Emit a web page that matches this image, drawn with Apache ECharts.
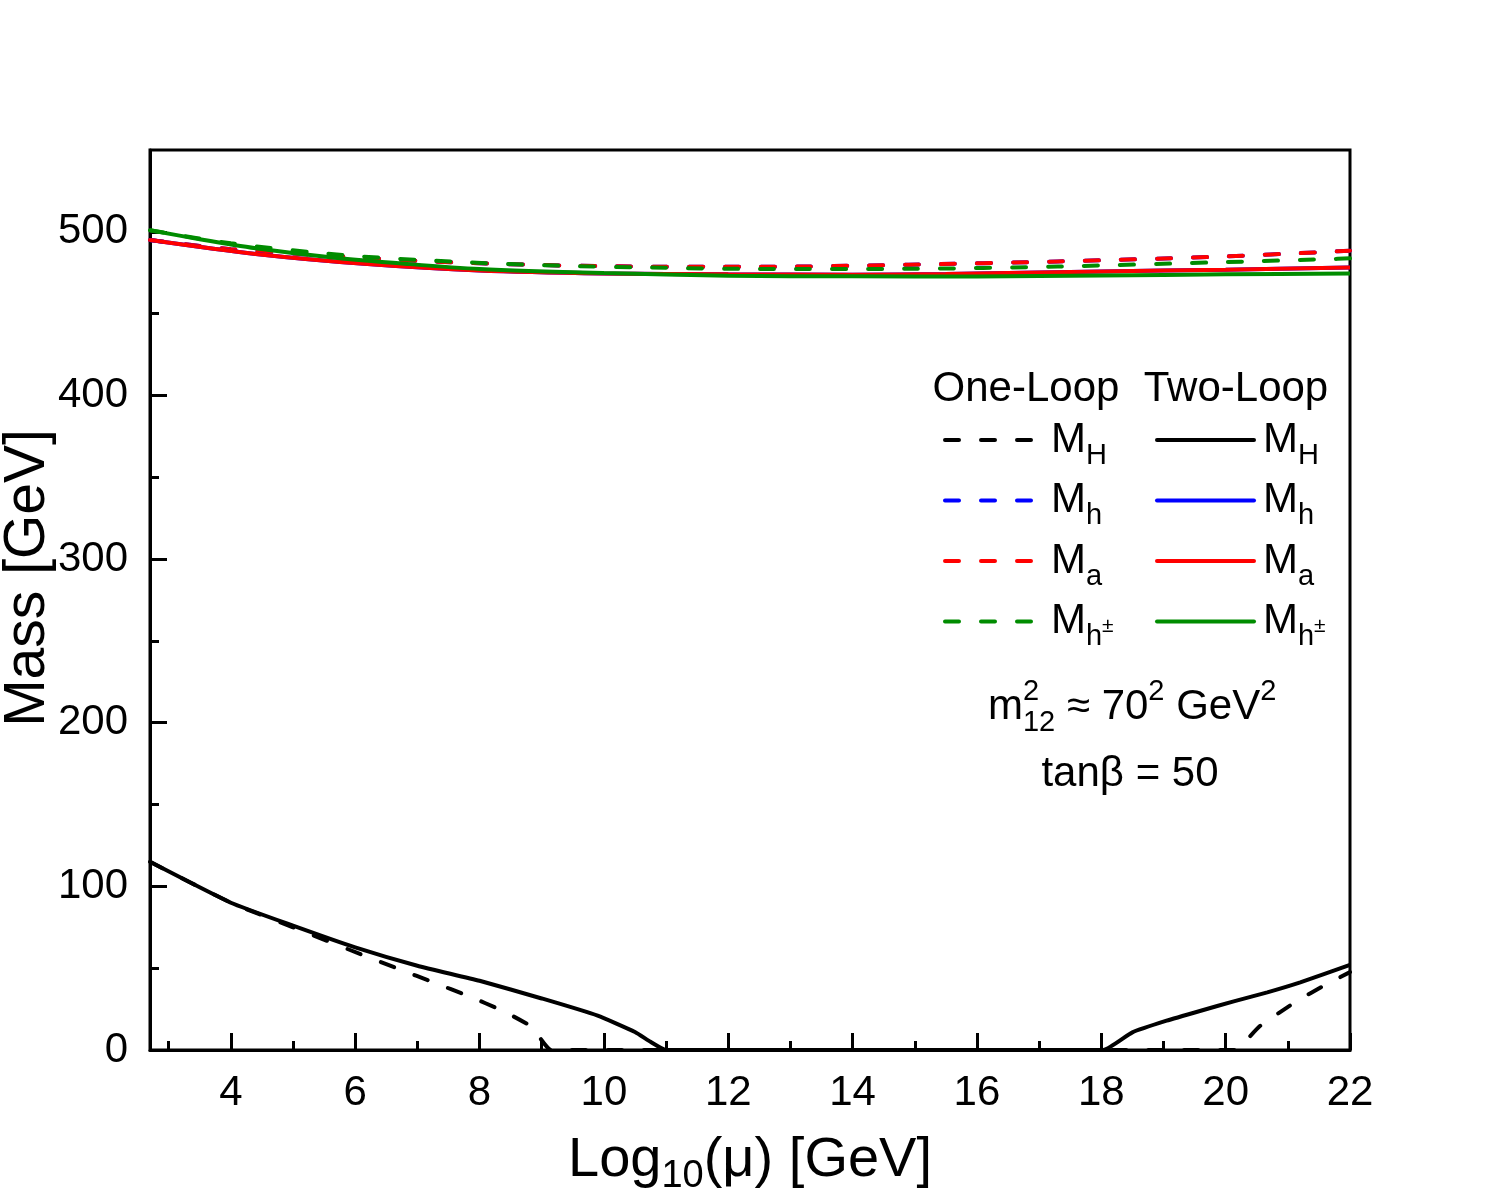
<!DOCTYPE html>
<html>
<head>
<meta charset="utf-8">
<script src="https://cdn.jsdelivr.net/npm/echarts@6/dist/echarts.min.js"></script>
<style>
  html, body { margin: 0; padding: 0; background: #fff; }
  #chart { width: 1500px; height: 1200px; }
</style>
</head>
<body>
<div id="chart"></div>
<script>
// values, [log10(mu), mass]
const MH_one = [[2.7, 115], [4, 90], [5, 75], [6.15, 57.6], [6.7, 49.5], [7.26, 41.3], [7.82, 33], [8.37, 24],
  [8.86, 13.8], [8.95, 8.5], [9.15, 0], [14, 0], [20.16, 0], [20.3, 4.7], [20.56, 14.9], [21.15, 30], [21.58, 39.3], [22, 47.6]]
const MH_two = [[2.7, 115], [4, 90], [5, 76], [6, 62.7], [7, 51.5], [8, 42.3], [9, 31.5], [9.9, 21], [10.5, 11],
  [10.75, 5], [11, 0], [14, 0], [18.03, 0], [18.5, 10.8], [19.05, 17.9], [19.6, 24], [20.13, 29.7], [20.67, 35.2], [21.2, 41.3], [22, 52]]
const Ma_one = [[2.7, 495], [4, 489.4], [5.8, 484.9], [7.6, 481.3], [10, 479], [12.5, 478.6], [14.9, 479.9],
  [17.3, 481.9], [19.8, 484.7], [21.65, 487.8], [22, 488.5]]
const Ma_two = [[2.7, 495], [4.4, 486.5], [6.2, 480.3], [8, 476.3], [10, 474.5], [12, 474], [14, 473.8],
  [15.5, 474.2], [18, 475.8], [20, 476.8], [22, 478.2]]
// M_h lies under M_a in the figure
const Mh_one = Ma_one.map(p => p.slice())
const Mh_two = Ma_two.map(p => p.slice())
const Mhpm_one = [[2.7, 501], [4, 493], [5.8, 485.8], [7.6, 481.7], [9.4, 479.2], [11, 478], [12.5, 477.3],
  [14.9, 477.4], [17.3, 478.8], [19.8, 481.3], [21.65, 483.3], [22, 483.8]]
const Mhpm_two = [[2.7, 501], [3.5, 495.5], [4.4, 490], [5.6, 484.5], [6.8, 480.5], [8, 477.3], [10, 474.8],
  [12, 473.2], [14, 472.8], [16, 472.7], [18, 473.3], [20, 474], [22, 474.6]]

const xMajor = [4, 6, 8, 10, 12, 14, 16, 18, 20, 22]
const xMinor = [3, 5, 7, 9, 11, 13, 15, 17, 19, 21]
const yMajor = [0, 100, 200, 300, 400, 500]
const yMinor = [50, 150, 250, 350, 450]

const FONT = 'Liberation Sans, Arial, sans-serif'
const BLACK = '#000000', BLUE = '#0000ff', RED = '#ff0000', GREEN = '#008c00'

const legendText = {
  MH: '{m|M}{s|H}',
  Mh: '{m|M}{s|h}',
  Ma: '{m|M}{s|a}',
  Mhpm: '{m|M}{s|h}{pm|±}'
}
const legendRich = {
  m: { fontSize: 42, lineHeight: 60, fontFamily: FONT, color: '#000', padding: [0, 0, 0, 4] },
  s: { fontSize: 29, lineHeight: 25, fontFamily: FONT, color: '#000', verticalAlign: 'bottom' },
  pm: { fontSize: 21, lineHeight: 21, fontFamily: FONT, color: '#000', padding: [10, 0, 0, 0] }
}

function line(name, data, color, dashed) {
  return {
    name,
    type: 'line',
    data,
    symbol: 'none',
    smooth: name.startsWith('MH') ? 0.15 : 0.3,
    color,
    lineStyle: {
      color,
      width: 4,
      type: dashed ? [14, 22] : 'solid',
      cap: dashed ? 'round' : 'butt'
    },
    emphasis: { disabled: true },
    animation: false
  }
}

function legend(names, left) {
  return {
    data: names,
    orient: 'vertical',
    left,
    top: 419,
    padding: 0,
    itemGap: 9.5,
    itemWidth: 97,
    itemHeight: 20,
    selectedMode: false,
    itemStyle: { opacity: 0 },
    lineStyle: { width: 4, cap: 'round' },
    formatter: name => legendText[name.split(' ')[0]],
    textStyle: { rich: legendRich }
  }
}

const chart = echarts.init(document.getElementById('chart'))

const supRich = {
  m: { fontSize: 42, lineHeight: 60, fontFamily: FONT, color: '#000' },
  t: { fontSize: 42, lineHeight: 60, fontFamily: FONT, color: '#000' },
  sub: { fontSize: 29, lineHeight: 29, fontFamily: FONT, color: '#000', verticalAlign: 'bottom' },
  sup: { fontSize: 29, lineHeight: 45, fontFamily: FONT, color: '#000', verticalAlign: 'top' }
}

chart.setOption({
  backgroundColor: '#fff',
  animation: false,
  grid: {
    left: 150, right: 150, top: 150, bottom: 150,
    outerBoundsMode: 'none',
    containLabel: false,
    show: true, borderColor: '#000', borderWidth: 3
  },
  xAxis: [{
    type: 'value',
    min: 2.7,
    max: 22,
    position: 'bottom',
    axisLine: { show: true, lineStyle: { color: '#000', width: 3 } },
    axisTick: { show: true, inside: true, length: 17, customValues: xMajor, lineStyle: { color: '#000', width: 3 } },
    axisLabel: { customValues: xMajor, fontSize: 42, fontFamily: FONT, color: '#000', margin: 22 },
    splitLine: { show: false },
    name: '{a|Log}{s|10}{a|(μ) [GeV]}',
    nameLocation: 'middle',
    nameGap: 76,
    nameMoveOverlap: false,
    nameTextStyle: {
      rich: {
        a: { fontSize: 56, lineHeight: 70, fontFamily: FONT, color: '#000' },
        s: { fontSize: 38, lineHeight: 38, fontFamily: FONT, color: '#000', verticalAlign: 'bottom' }
      }
    }
  }, {
    type: 'value',
    min: 2.7,
    max: 22,
    position: 'bottom',
    axisLine: { show: false },
    axisTick: { show: true, inside: true, length: 9, customValues: xMinor, lineStyle: { color: '#000', width: 3 } },
    axisLabel: { show: false },
    splitLine: { show: false }
  }],
  yAxis: [{
    type: 'value',
    min: 0,
    max: 550,
    position: 'left',
    axisLine: { show: true, lineStyle: { color: '#000', width: 3 } },
    axisTick: { show: true, inside: true, length: 17, customValues: yMajor, lineStyle: { color: '#000', width: 3 } },
    axisLabel: { customValues: yMajor, fontSize: 42, fontFamily: FONT, color: '#000', margin: 22 },
    splitLine: { show: false },
    name: 'Mass [GeV]',
    nameLocation: 'middle',
    nameGap: 93,
    nameRotate: 90,
    nameMoveOverlap: false,
    nameTextStyle: { fontSize: 57, fontFamily: FONT, color: '#000', padding: [0, 0, 0, 44] }
  }, {
    type: 'value',
    min: 0,
    max: 550,
    position: 'left',
    axisLine: { show: false },
    axisTick: { show: true, inside: true, length: 9, customValues: yMinor, lineStyle: { color: '#000', width: 3 } },
    axisLabel: { show: false },
    splitLine: { show: false }
  }],
  legend: [
    legend(['MH 1L', 'Mh 1L', 'Ma 1L', 'Mhpm 1L'], 943),
    legend(['MH 2L', 'Mh 2L', 'Ma 2L', 'Mhpm 2L'], 1155)
  ],
  graphic: [
    { type: 'text', x: 1026, y: 389, style: { text: 'One-Loop', font: '42px ' + FONT, fill: '#000', align: 'center', verticalAlign: 'middle' } },
    { type: 'text', x: 1236, y: 389, style: { text: 'Two-Loop', font: '42px ' + FONT, fill: '#000', align: 'center', verticalAlign: 'middle' } },
    { type: 'text', x: 988, y: 677, style: { text: '{m|m}{sub|12}{t| ≈ 70}{sup|2}{t| GeV}{sup|2}', rich: supRich, align: 'left', verticalAlign: 'top' } },
    { type: 'text', x: 1023, y: 677, style: { text: '{sup|2}', rich: supRich, align: 'left', verticalAlign: 'top' } },
    { type: 'text', x: 1130, y: 774, style: { text: 'tanβ = 50', font: '42px ' + FONT, fill: '#000', align: 'center', verticalAlign: 'middle' } }
  ],
  series: [
    line('MH 1L', MH_one, BLACK, true),
    line('MH 2L', MH_two, BLACK, false),
    line('Mh 1L', Mh_one, BLUE, true),
    line('Ma 1L', Ma_one, RED, true),
    line('Mhpm 1L', Mhpm_one, GREEN, true),
    line('Mh 2L', Mh_two, BLUE, false),
    line('Ma 2L', Ma_two, RED, false),
    line('Mhpm 2L', Mhpm_two, GREEN, false)
  ]
})
</script>
</body>
</html>
